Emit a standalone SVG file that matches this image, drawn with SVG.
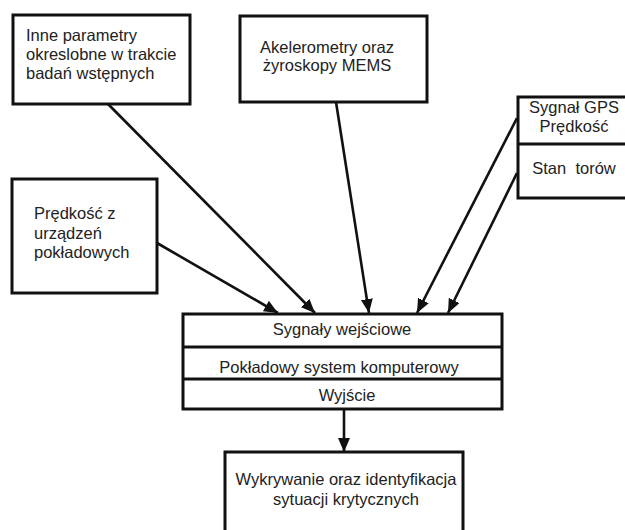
<svg xmlns="http://www.w3.org/2000/svg" width="625" height="530" viewBox="0 0 625 530">
<defs>
<style>
.box{fill:#fff;stroke:#111;stroke-width:3}
.div{stroke:#111;stroke-width:3}
.t{font-family:"Liberation Sans",Arial,sans-serif;font-size:16.5px;fill:#222}
.c{text-anchor:middle}
.con{stroke:#111;stroke-width:2.6;fill:none;marker-end:url(#ah)}
</style>
<marker id="ah" markerUnits="userSpaceOnUse" markerWidth="16" markerHeight="14" refX="14" refY="6" orient="auto">
<path d="M0,0 L14,6 L0,12 Z" fill="#111"/>
</marker>
</defs>
<rect width="625" height="530" fill="#fff"/>
<g id="connectors">
<line class="con" x1="108" y1="104" x2="315" y2="313"/>
<line class="con" x1="336" y1="102" x2="369" y2="313"/>
<line class="con" x1="517" y1="118" x2="417" y2="313"/>
<line class="con" x1="517" y1="173" x2="448" y2="313"/>
<line class="con" x1="157" y1="243" x2="278" y2="313"/>
<line class="con" x1="344" y1="409" x2="344" y2="452"/>
</g>
<g id="inne">
<rect class="box" x="13" y="15" width="177" height="89"/>
<text class="t" x="26" y="41">Inne parametry</text>
<text class="t" x="26" y="60">okreslobne w trakcie</text>
<text class="t" x="26" y="79">badań wstępnych</text>
</g>
<g id="akcel">
<rect class="box" x="240" y="16" width="187" height="86"/>
<text class="t c" x="327" y="53">Akelerometry oraz</text>
<text class="t c" x="327" y="71">żyroskopy MEMS</text>
</g>
<g id="gps">
<rect class="box" x="518" y="97" width="110" height="101"/>
<line class="div" x1="518" y1="144" x2="628" y2="144"/>
<text class="t c" x="574" y="113">Sygnał GPS</text>
<text class="t c" x="574" y="132">Prędkość</text>
<text class="t c" x="574" y="174" xml:space="preserve">Stan  torów</text>
</g>
<g id="predkosc">
<rect class="box" x="12" y="179" width="145" height="114"/>
<text class="t" x="34" y="219">Prędkość z</text>
<text class="t" x="34" y="239">urządzeń</text>
<text class="t" x="34" y="258">pokładowych</text>
</g>
<g id="system">
<rect class="box" x="183" y="314" width="319" height="95"/>
<line class="div" x1="183" y1="347" x2="502" y2="347"/>
<line class="div" x1="183" y1="379" x2="502" y2="379"/>
<text class="t c" x="342" y="335">Sygnały wejściowe</text>
<text class="t c" x="339" y="373">Pokładowy system komputerowy</text>
<text class="t c" x="347" y="401">Wyjście</text>
</g>
<g id="wykrywanie">
<rect class="box" x="225" y="452" width="238" height="85"/>
<text class="t c" x="346" y="485">Wykrywanie oraz identyfikacja</text>
<text class="t c" x="346" y="505">sytuacji krytycznych</text>
</g>
</svg>
